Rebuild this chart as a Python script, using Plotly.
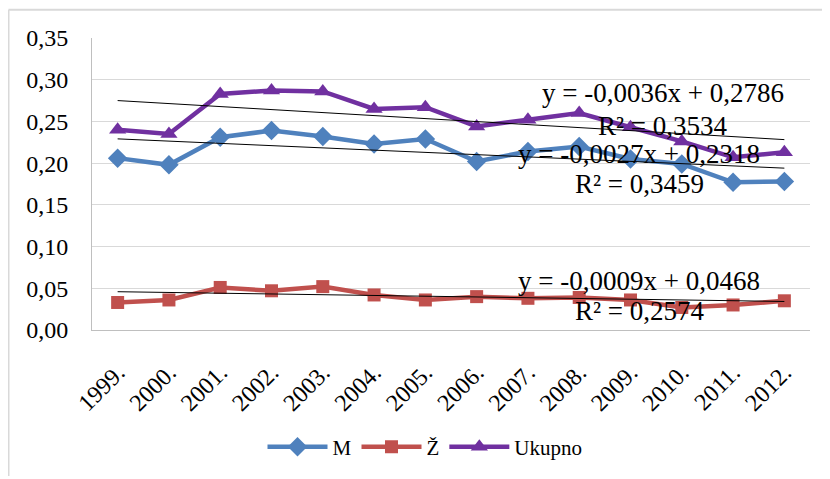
import plotly.graph_objects as go

years = ["1999.", "2000.", "2001.", "2002.", "2003.", "2004.", "2005.",
         "2006.", "2007.", "2008.", "2009.", "2010.", "2011.", "2012."]
m_vals = [0.206, 0.198, 0.231, 0.239, 0.232, 0.223, 0.229,
          0.202, 0.214, 0.220, 0.205, 0.199, 0.177, 0.178]
z_vals = [0.033, 0.036, 0.051, 0.047, 0.052, 0.042, 0.036,
          0.040, 0.038, 0.039, 0.036, 0.027, 0.030, 0.035]
u_vals = [0.240, 0.235, 0.283, 0.287, 0.286, 0.265, 0.267,
          0.244, 0.252, 0.260, 0.243, 0.226, 0.207, 0.213]

series_names = ["M", "Ž", "Ukupno"]
trend_slopes = [-0.0027, -0.0009, -0.0036]
trend_intercepts = [0.2318, 0.0468, 0.2786]
trend_r2 = [0.3459, 0.2574, 0.3534]
eq_labels = ["y = -0,0027x + 0,2318", "y = -0,0009x + 0,0468", "y = -0,0036x + 0,2786"]
r2_labels = ["R² = 0,3459", "R² = 0,2574", "R² = 0,3534"]
# label anchor positions (x index, y value)
eq_pos = [(11.16, 0.2107), (11.16, 0.0583), (11.64, 0.2845)]
r2_pos = [(11.18, 0.1750), (11.18, 0.0226), (11.64, 0.2440)]

FONT = "Liberation Serif, Times New Roman, serif"
xs = list(range(1, len(years) + 1))

colors = ["#4F81BD", "#C0504D", "#7030A0"]
symbols = ["diamond", "square", "triangle-up"]
msizes = [15, 13, 15]
values = [m_vals, z_vals, u_vals]

fig = go.Figure()
for name, vals, c, s, ms in zip(series_names, values, colors, symbols, msizes):
    fig.add_trace(go.Scatter(
        x=xs, y=vals, name=name, mode="lines+markers",
        line=dict(color=c, width=4.5),
        marker=dict(symbol=s, size=ms, color=c),
    ))

for a, b in zip(trend_slopes, trend_intercepts):
    tx = [xs[0], xs[-1]]
    fig.add_trace(go.Scatter(
        x=tx, y=[a * t + b for t in tx], mode="lines",
        line=dict(color="black", width=1), showlegend=False, hoverinfo="skip",
    ))

annotations = []
for lab, (ax, ay) in zip(eq_labels + r2_labels, eq_pos + r2_pos):
    annotations.append(dict(x=ax, y=ay, xref="x", yref="y", text=lab, showarrow=False,
                            font=dict(family=FONT, size=27, color="black")))

# the page body adds an 8px offset; figure coordinates are screen minus 8
OFF = 8
W, H = 830 - OFF, 479 - OFF
L, T = 92 - OFF, 38 - OFF
R = W - (810 - OFF)
B = H - (332 - OFF)
pw, ph = W - L - R, H - T - B

def px_x(p):
    return (p - OFF - L) / pw

def px_y(p):
    return (H - B - (p - OFF)) / ph

shapes = [
    dict(type="line", xref="paper", yref="paper", x0=px_x(8.5), x1=px_x(830),
         y0=px_y(9.5), y1=px_y(9.5), line=dict(color="#D9D9D9", width=2)),
    dict(type="line", xref="paper", yref="paper", x0=px_x(8.5), x1=px_x(8.5),
         y0=px_y(9.5), y1=px_y(479), line=dict(color="#D9D9D9", width=2)),
]

fig.update_layout(
    width=W, height=H,
    margin=dict(l=L, r=R, t=T, b=B),
    paper_bgcolor="white", plot_bgcolor="white",
    separators=",.",
    font=dict(family=FONT, color="black"),
    showlegend=True,
    legend=dict(orientation="h", x=px_x(425), xanchor="center", y=px_y(450), yanchor="middle",
                font=dict(family=FONT, size=21, color="black"), itemwidth=60,
                traceorder="normal"),
    annotations=annotations,
    shapes=shapes,
    xaxis=dict(
        range=[0.5, len(years) + 0.5], tickmode="array", tickvals=xs, ticktext=years,
        tickangle=-45, tickfont=dict(family=FONT, size=24, color="black"),
        showgrid=False, showline=True, linecolor="#BFBFBF", linewidth=1,
        ticks="", zeroline=False, ticklabelstandoff=18,
    ),
    yaxis=dict(
        range=[0, 0.35], dtick=0.05, tickformat=".2f",
        tickfont=dict(family=FONT, size=24, color="black"),
        showgrid=True, gridcolor="#D9D9D9", gridwidth=1,
        showline=True, linecolor="#BFBFBF", linewidth=1,
        zeroline=False, ticks="", ticklabelstandoff=18,
    ),
)

fig.write_html("out.html")
